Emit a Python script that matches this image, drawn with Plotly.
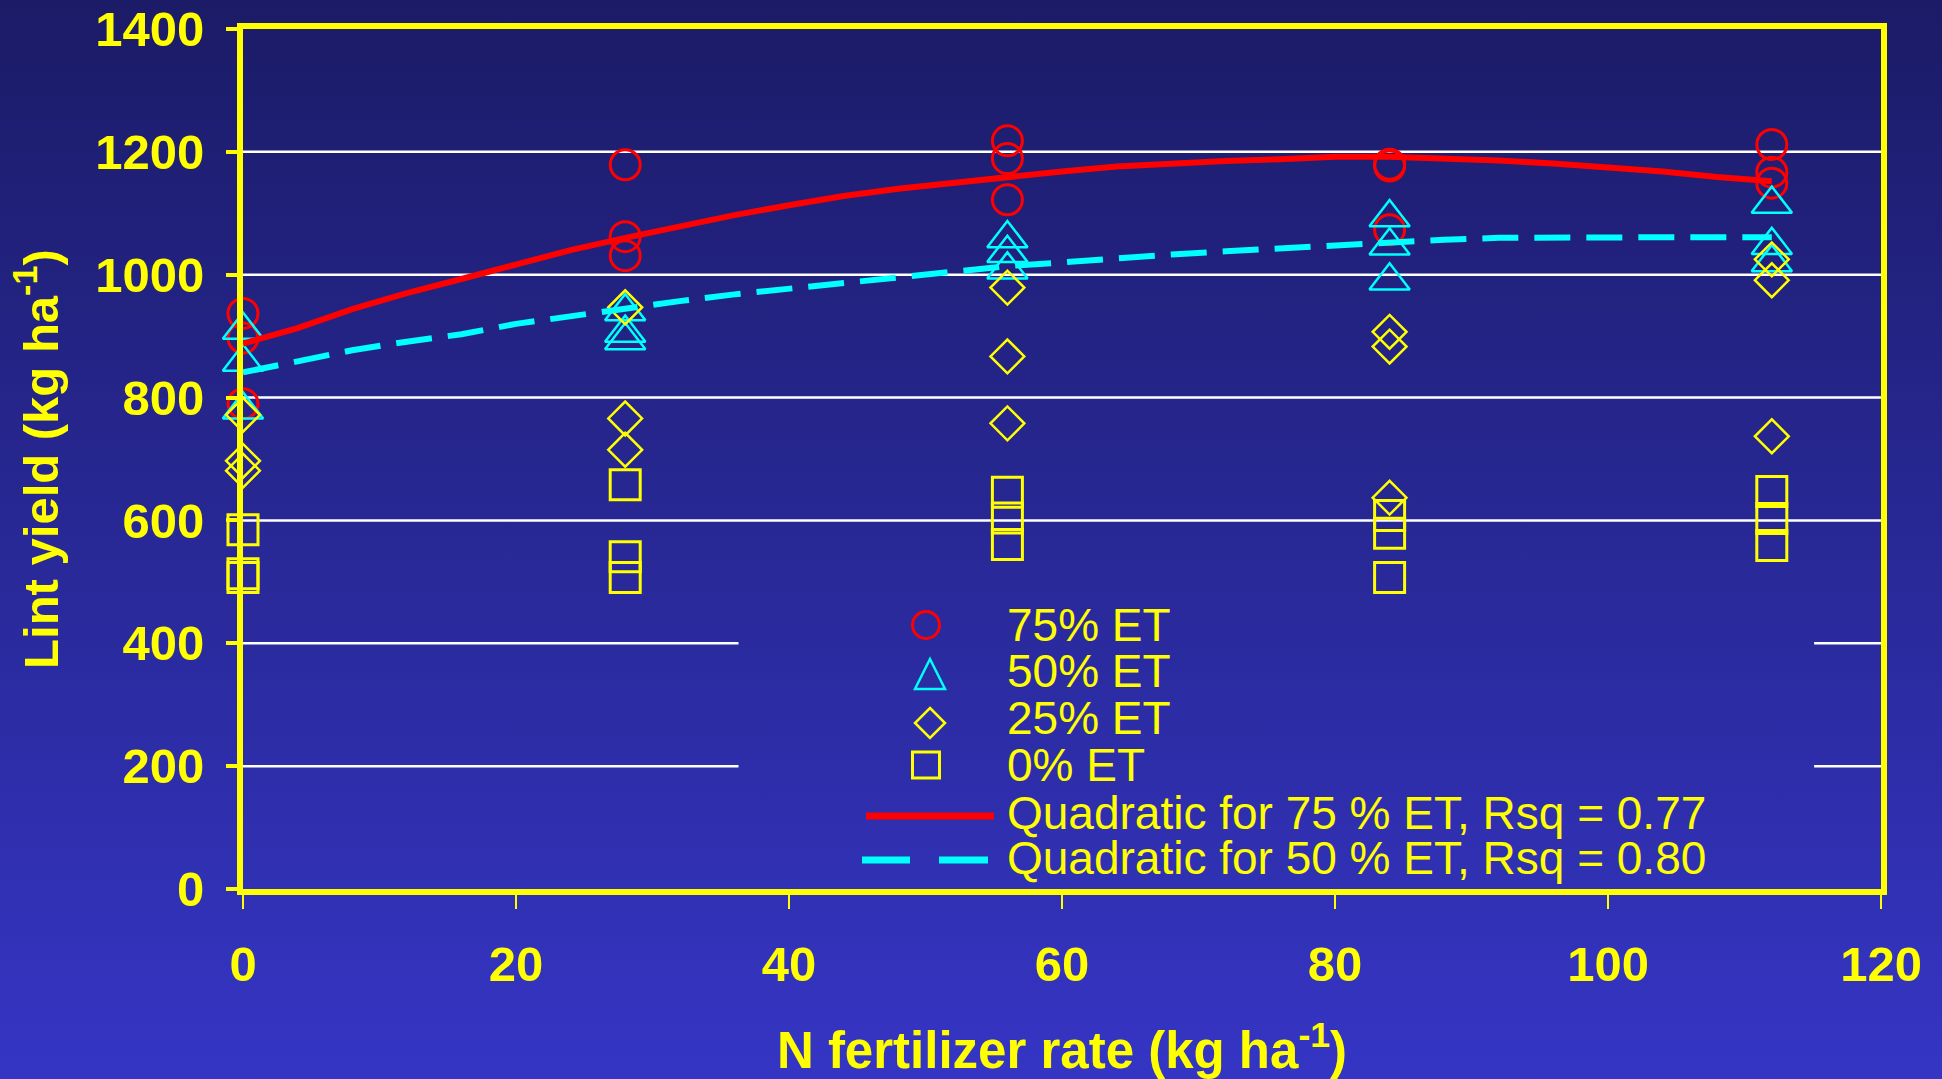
import base64
import plotly.graph_objects as go

# ---------------- data ----------------
n_rates = [0, 28, 56, 84, 112]

# lint yield (kg/ha), three reps per N rate, per irrigation level
yield_75et = [[937, 897, 790], [1179, 1062, 1031], [1218, 1189, 1122], [1180, 1177, 1073], [1212, 1167, 1149]]
yield_50et = [[910, 858, 780], [940, 905, 893], [1059, 1035, 1008], [1093, 1047, 990], [1115, 1048, 1020]]
yield_25et = [[772, 697, 681], [947, 766, 715], [979, 867, 758], [907, 883, 637], [1025, 991, 737]]
yield_0et = [[585, 513, 507], [658, 541, 507], [646, 604, 561], [608, 579, 507], [647, 603, 559]]

# fitted quadratic response curves
fit_n = [0, 4, 8, 12, 16, 20, 24, 28, 32, 36, 40, 44, 48, 52, 56, 60, 64, 68, 72, 76, 80,
         84, 88, 92, 96, 100, 104, 108, 112]
fit_75et = [888, 913, 944, 970, 993, 1016, 1040, 1060, 1079, 1097, 1113, 1128, 1140, 1150, 1160,
            1168, 1176, 1181, 1185, 1188, 1192, 1192, 1190, 1186, 1181, 1175, 1168, 1159, 1152]
fit_50et = [841, 860, 877, 891, 903, 920, 933, 944, 957, 968, 977, 986, 996, 1004, 1014,
            1020, 1027, 1033, 1038, 1043, 1048, 1053, 1057, 1060, 1061, 1061, 1061, 1061, 1061]

x_ticks = [0, 20, 40, 60, 80, 100, 120]
y_ticks = [0, 200, 400, 600, 800, 1000, 1200, 1400]

legend_labels = ["75% ET", "50% ET", "25% ET", "0% ET",
                 "Quadratic for 75 % ET, Rsq = 0.77",
                 "Quadratic for 50 % ET, Rsq = 0.80"]

# ---------------- geometry / style ----------------
W, H = 1942, 1079
M_L, M_R, M_T, M_B = 243, 61, 29, 190
PW = W - M_L - M_R
PH = H - M_T - M_B

YELLOW = "#ffff00"
RED = "#ff0000"
CYAN = "#00ffff"
FONT = "Liberation Sans, Arial, sans-serif"


def px_x(px):
    return (px - M_L) / PW


def px_y(py):
    return (H - M_B - py) / PH


def flatten(groups):
    xs, ys = [], []
    for n, reps in zip(n_rates, groups):
        for v in reps:
            xs.append(n)
            ys.append(v)
    return xs, ys


fig = go.Figure()

marker_specs = [
    (yield_75et, "circle-open", RED, 30, 3),
    (yield_50et, "triangle-up-open", CYAN, 35, 2.5),
    (yield_25et, "diamond-open", YELLOW, 26, 2.5),
    (yield_0et, "square-open", YELLOW, 30, 3),
]
for (groups, sym, col, size, lw), name in zip(marker_specs, legend_labels[:4]):
    xs, ys = flatten(groups)
    fig.add_trace(go.Scatter(
        x=xs, y=ys, mode="markers", name=name, cliponaxis=False,
        marker=dict(symbol=sym, color=col, size=size, line=dict(width=lw, color=col)),
    ))

fig.add_trace(go.Scatter(x=fit_n, y=fit_75et, mode="lines", name=legend_labels[4],
                         line=dict(color=RED, width=6)))
fig.add_trace(go.Scatter(x=fit_n, y=fit_50et, mode="lines", name=legend_labels[5],
                         line=dict(color=CYAN, width=6, dash="36px,16px")))

# ---------------- background gradient ----------------
svg = (
    '<svg xmlns="http://www.w3.org/2000/svg" width="10" height="1079" viewBox="0 0 10 1079" '
    'preserveAspectRatio="none"><defs><linearGradient id="g" x1="0" y1="0" x2="0" y2="1">'
    '<stop offset="0" stop-color="#1b1b67"/><stop offset="1" stop-color="#3535c5"/>'
    '</linearGradient></defs><rect width="10" height="1079" fill="url(#g)"/></svg>'
)
bg_src = "data:image/svg+xml;base64," + base64.b64encode(svg.encode()).decode()

shapes = []
# horizontal grid lines (interrupted behind the legend block)
legend_gap = (36.3, 115.1)
for g in y_ticks[1:-1]:
    if g <= 400:
        segs = [(0, legend_gap[0]), (legend_gap[1], 120)]
    else:
        segs = [(0, 120)]
    for a, b in segs:
        shapes.append(dict(type="line", xref="x", yref="y", x0=a, x1=b, y0=g, y1=g,
                           layer="below", line=dict(color="white", width=2.5)))

# legend glyphs
shapes.append(dict(type="circle", xref="paper", yref="paper",
                   x0=px_x(912.5), x1=px_x(939.5), y0=px_y(638.5), y1=px_y(611.5),
                   line=dict(color=RED, width=3)))


def poly(points):
    return "M" + " L".join(f"{px_x(a):.5f},{px_y(b):.5f}" for a, b in points) + " Z"


shapes.append(dict(type="path", xref="paper", yref="paper",
                   path=poly([(915, 689), (945, 689), (930, 659)]),
                   line=dict(color=CYAN, width=2.5)))
shapes.append(dict(type="path", xref="paper", yref="paper",
                   path=poly([(930, 708), (945, 723), (930, 738), (915, 723)]),
                   line=dict(color=YELLOW, width=2.5)))
shapes.append(dict(type="rect", xref="paper", yref="paper",
                   x0=px_x(912.5), x1=px_x(939.5), y0=px_y(778), y1=px_y(752),
                   line=dict(color=YELLOW, width=3)))
shapes.append(dict(type="line", xref="paper", yref="paper",
                   x0=px_x(866), x1=px_x(994), y0=px_y(816), y1=px_y(816),
                   line=dict(color=RED, width=7)))
for a, b in [(862, 910), (939, 988)]:
    shapes.append(dict(type="line", xref="paper", yref="paper",
                       x0=px_x(a), x1=px_x(b), y0=px_y(860), y1=px_y(860),
                       line=dict(color=CYAN, width=7)))

annotations = []
for label, cy in zip(legend_labels, [625, 671, 718, 765, 813, 858]):
    annotations.append(dict(text=label, xref="paper", yref="paper",
                            x=px_x(1005), y=px_y(cy), xanchor="left", yanchor="middle",
                            showarrow=False, font=dict(family=FONT, size=46, color=YELLOW)))

tick_font = dict(family=FONT, size=49, color=YELLOW, weight="bold")
xtitle_font = dict(family=FONT, size=51, color=YELLOW, weight="bold")

fig.update_layout(
    width=W, height=H,
    margin=dict(l=M_L, r=M_R, t=M_T, b=M_B, autoexpand=False),
    paper_bgcolor="#272798",
    plot_bgcolor="rgba(0,0,0,0)",
    showlegend=False,
    images=[dict(source=bg_src, xref="paper", yref="paper",
                 x=px_x(0), y=px_y(0), sizex=W / PW, sizey=H / PH,
                 xanchor="left", yanchor="top", sizing="stretch", layer="below")],
    shapes=shapes,
    annotations=annotations,
    xaxis=dict(
        range=[0, 120], tickvals=x_ticks, ticktext=[str(v) for v in x_ticks],
        showgrid=False, zeroline=False,
        showline=True, linecolor=YELLOW, linewidth=6, mirror=True,
        ticks="outside", ticklen=14, tickwidth=2, tickcolor=YELLOW,
        tickfont=tick_font, ticklabelstandoff=13,
        title=dict(text="N fertilizer rate (kg ha<sup>-1</sup>)", font=xtitle_font, standoff=55),
    ),
    yaxis=dict(
        range=[0, 1400], tickvals=y_ticks, ticktext=[str(v) for v in y_ticks],
        showgrid=False, zeroline=False,
        showline=True, linecolor=YELLOW, linewidth=6, mirror=True,
        ticks="outside", ticklen=11, tickwidth=4, tickcolor=YELLOW,
        tickfont=tick_font, ticklabelstandoff=12,
        title=dict(text="Lint yield (kg ha<sup>-1</sup>)", font=tick_font, standoff=23),
    ),
)

fig.write_html("out.html")
